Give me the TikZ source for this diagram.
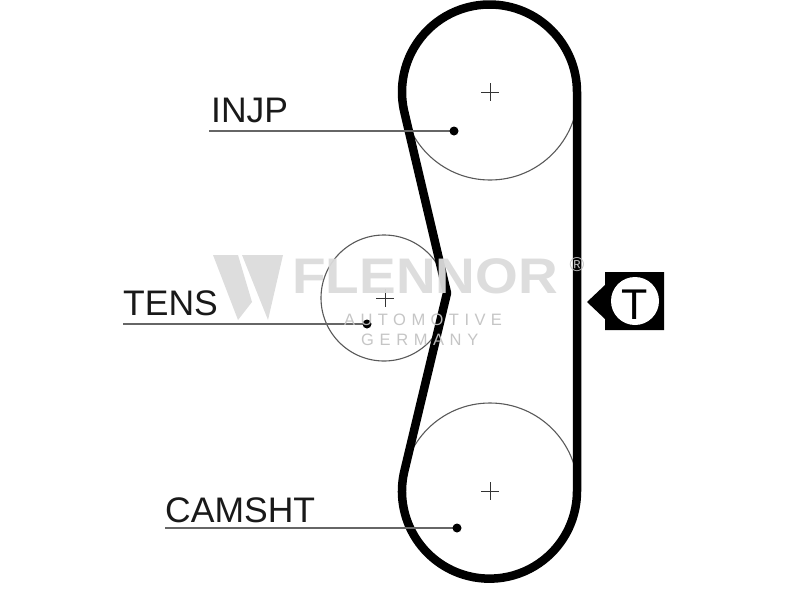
\documentclass[tikz,border=0pt]{standalone}
\usepackage{fontspec}
\setmainfont{Liberation Sans}
\begin{document}
\begin{tikzpicture}[x=1pt,y=-1pt,
 belt/.style={line width=8.5pt,line join=round},
 thin line/.style={line width=1.1pt,black!65},
 lead/.style={line width=2pt,black!60},
 lab/.style={font=\fontsize{35.5}{36}\selectfont,anchor=base west,inner sep=0pt,text=black!90},
 wm/.style={black!14,opacity=.95,inner sep=0pt,anchor=base west},
 wmt/.style={black!24,opacity=.95,inner sep=0pt,anchor=base west}]
\useasboundingbox (0,0) rectangle (800,600);
% pulleys
\draw[thin line] (490,92) circle (88);
\draw[thin line] (490,491) circle (88);
\draw[thin line] (384,298) circle (63);
\foreach \x/\y in {490/92,385/298,490/491}{
 \draw[line width=1pt,black!80] (\x-9,\y)--(\x+9,\y) (\x,\y-9)--(\x,\y+9);}
% belt
\draw[belt] (577,92) arc[start angle=0,end angle=-194,radius=87.5] -- (447,293) -- (404.6,470)
  arc[start angle=194,end angle=0,radius=87.5] -- cycle;
% label leaders
\coordinate (a1) at (209,131);\coordinate (b1) at (454,131);
\coordinate (a2) at (123,324);\coordinate (b2) at (367,324);
\coordinate (a3) at (165,528);\coordinate (b3) at (457,528);
\foreach \i in {1,2,3}{
 \draw[lead] (a\i)--(b\i);
 \fill (b\i) circle (4.5);}
\node[lab] at (211,122) {INJP};
\node[lab] at (123,315) {TENS};
\node[lab] at (165,522) {CAMSHT};
% T tag
\fill (587,302)--(605,285)--(605,272)--(664,272)--(664,330)--(605,330)--(605,319)--cycle;
\fill[white] (635,301) circle (24);
\node[font=\fontsize{43}{43}\selectfont,anchor=base,inner sep=0pt] at (635,319) {T};
% watermark
\fill[wm] (213,255)--(238,255)--(252,302)--(238,320)--cycle;
\fill[wm] (242,255)--(283,255)--(268,320)--cycle;
\node[wm,xscale=1.1,font=\bfseries\fontsize{50}{50}\selectfont] at (292,293) {FLENNOR};
\node[wmt,font=\fontsize{16.5}{16.5}\selectfont\addfontfeature{LetterSpace=33}] at (344,325) {AUTOMOTIVE};
\node[wmt,font=\fontsize{16.5}{16.5}\selectfont\addfontfeature{LetterSpace=34}] at (361,345) {GERMANY};
\node[wmt,font=\fontsize{20}{20}\selectfont,anchor=center] at (577,265) {®};
\end{tikzpicture}
\end{document}
